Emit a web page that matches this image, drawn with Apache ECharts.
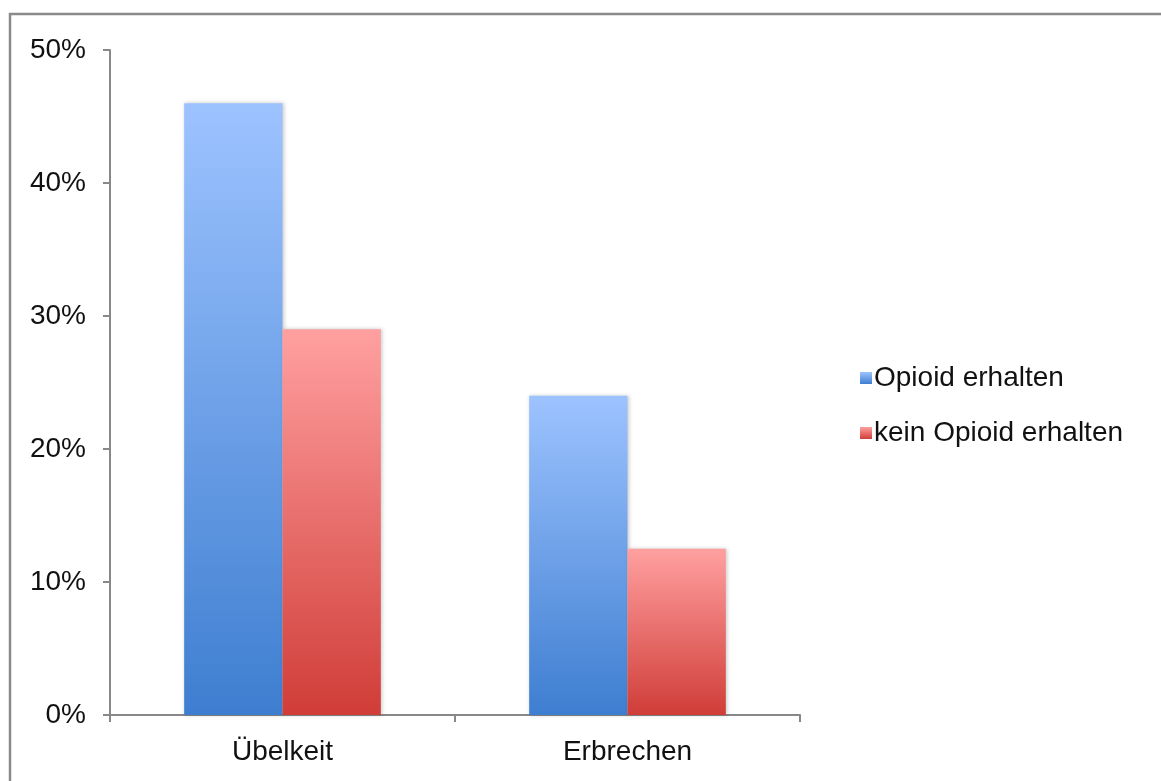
<!DOCTYPE html>
<html>
<head>
<meta charset="utf-8">
<script src="https://cdn.jsdelivr.net/npm/echarts@6/dist/echarts.min.js"></script>
<style>
  html, body { margin: 0; padding: 0; background: #fff; }
  #chart { width: 1161px; height: 781px; }
</style>
</head>
<body>
<div id="chart"></div>
<script>
// Daten
const categories = ['Übelkeit', 'Erbrechen'];
const seriesNames = ['Opioid erhalten', 'kein Opioid erhalten'];
const opioidValues = [46, 24];
const keinOpioidValues = [29, 12.5];
const yTicks = [0, 10, 20, 30, 40, 50];

const chart = echarts.init(document.getElementById('chart'));

const grad = (top, bottom) => new echarts.graphic.LinearGradient(0, 0, 0, 1, [
  { offset: 0, color: top },
  { offset: 1, color: bottom }
]);

const font = 'Liberation Sans, Arial, Helvetica, sans-serif';

const option = {
  animation: false,
  backgroundColor: '#fff',
  graphic: [{
    type: 'rect',
    shape: { x: 10, y: 14, width: 1300, height: 1000 },
    style: { fill: 'none', stroke: '#8a8a8a', lineWidth: 2.5 },
    silent: true,
    z: -1
  }],
  legend: {
    orient: 'vertical',
    left: 855,
    top: 359,
    icon: 'rect',
    itemWidth: 12,
    itemHeight: 12,
    itemGap: 27,
    textStyle: { fontFamily: font, fontSize: 28, color: '#111', padding: [0, 0, 0, -3] },
    data: seriesNames
  },
  grid: { left: 110, right: 361, top: 50, bottom: 66 },
  xAxis: {
    type: 'category',
    data: categories,
    axisLine: { lineStyle: { color: '#888', width: 2 } },
    axisTick: { show: true, length: 7, lineStyle: { color: '#888', width: 2 } },
    axisLabel: { fontFamily: font, fontSize: 28, color: '#111', margin: 23 }
  },
  yAxis: {
    type: 'value',
    min: yTicks[0],
    max: yTicks[yTicks.length - 1],
    interval: 10,
    axisLine: { show: true, lineStyle: { color: '#888', width: 2 } },
    axisTick: { show: true, length: 7, lineStyle: { color: '#888', width: 2 } },
    splitLine: { show: false },
    axisLabel: {
      fontFamily: font, fontSize: 28, color: '#111', margin: 24,
      padding: [6, 0, 0, 0],
      formatter: v => v + '%'
    }
  },
  series: [
    {
      name: seriesNames[0],
      type: 'bar',
      data: opioidValues,
      barGap: '0%',
      barCategoryGap: '43%',
      itemStyle: {
        color: grad('#9dc3ff', '#3e7ed0'),
        shadowBlur: 4,
        shadowColor: 'rgba(0,0,0,0.22)',
        shadowOffsetX: 1
      }
    },
    {
      name: seriesNames[1],
      type: 'bar',
      data: keinOpioidValues,
      itemStyle: {
        color: grad('#ffa0a0', '#d03d38'),
        shadowBlur: 4,
        shadowColor: 'rgba(0,0,0,0.22)',
        shadowOffsetX: 1
      }
    }
  ]
};

chart.setOption(option);
</script>
</body>
</html>
